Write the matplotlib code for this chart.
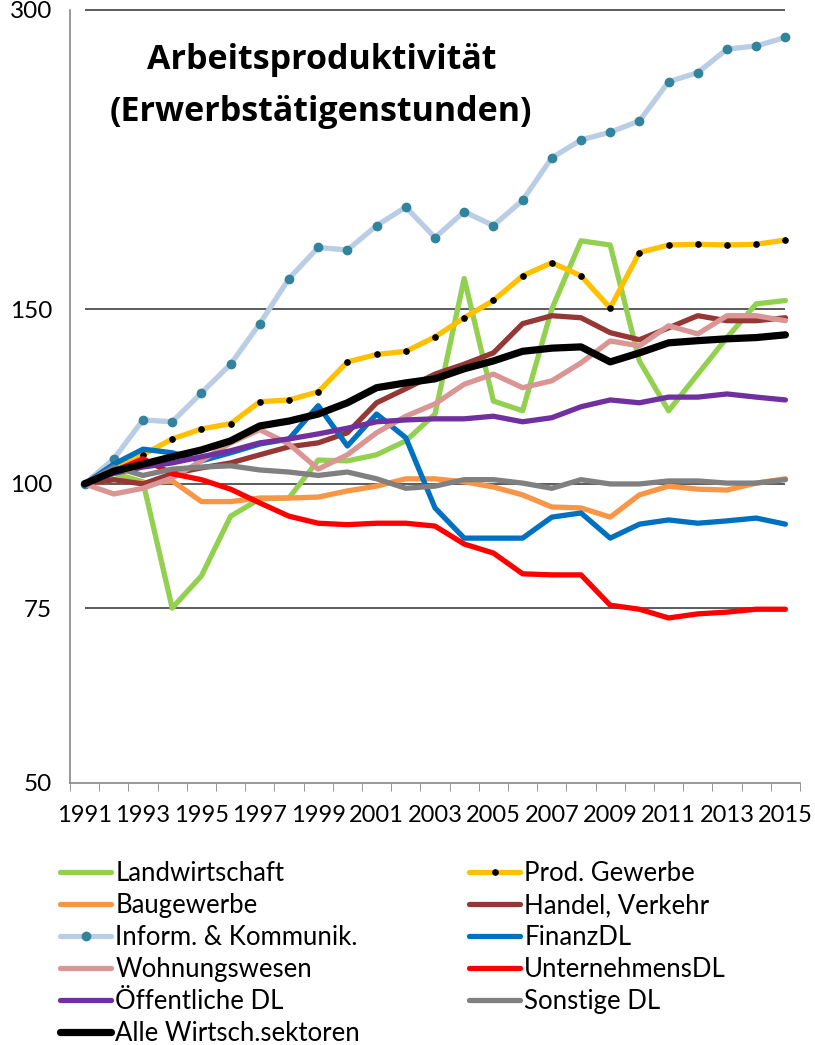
import matplotlib
matplotlib.use("Agg")
import matplotlib.pyplot as plt
from matplotlib.ticker import FixedLocator, NullFormatter
import numpy as np

plt.rcParams['font.family'] = ['Lato', 'DejaVu Sans']

years = list(range(1991, 2016))

landwirtschaft = [100, 102.5, 100.5, 75, 80.8, 92.8, 96.6, 96.8, 105.7, 105.5, 107, 110.5, 117.6,
                  161, 121.2, 118.5, 150, 175.7, 174, 133, 118.5, 129, 140.4, 151.8, 153]
prod_gewerbe = [100, 103.5, 107, 111, 113.6, 115, 121, 121.5, 123.8, 132.7, 135, 136, 140.6,
                147, 153, 162, 167, 162, 150.4, 171, 174, 174.3, 174, 174.3, 176]
baugewerbe = [100, 101, 100.2, 100.7, 96, 96, 96.8, 96.8, 97, 98.4, 99.5, 101.2, 101.2,
              100.5, 99.3, 97.5, 94.8, 94.6, 92.6, 97.5, 99.5, 98.8, 98.6, 100.2, 101.2]
handel = [100, 101, 100, 102.4, 103.8, 105, 107, 109, 110, 112.6, 120.7, 124.7, 129,
          132, 135.5, 145, 147.7, 147, 142, 139.7, 143.6, 147.7, 146, 146, 147]
inform = [100, 106, 116, 115.5, 123.5, 132, 145, 161, 173, 172, 182, 190, 177,
          188, 182, 193, 213, 222, 226, 232, 254, 259.5, 274, 276, 281.5]
finanz = [100, 104.7, 108.4, 107.5, 105.5, 107.5, 109.7, 111, 119.9, 109.2, 117.6, 111.3, 94.6,
          88.2, 88.2, 88.2, 92.6, 93.5, 88.2, 91.1, 92, 91.3, 91.8, 92.4, 91.1]
wohnung = [100, 97.7, 99, 101.4, 105.5, 110, 113.4, 109.7, 103.5, 107, 112.6, 117, 120.4,
           126, 129, 125, 127, 132.4, 139.3, 137.7, 144.3, 141.6, 147.7, 147.7, 146]
unternehmens = [100, 103, 106, 102.4, 101, 98.8, 95.7, 92.8, 91.3, 91, 91.3, 91.3, 90.7,
                87, 85.2, 81.2, 81, 81, 75.5, 74.8, 73.3, 74, 74.3, 74.8, 74.8]
oeffentlich = [100, 102.5, 104, 105, 106.5, 108, 110, 111, 112.3, 113.8, 115.5, 116, 116.3,
               116.3, 117, 115.5, 116.6, 119.6, 121.5, 120.7, 122.3, 122.3, 123.2, 122.3, 121.5]
sonstige = [100, 104, 102, 103.5, 104, 104.3, 103.3, 102.8, 102, 102.8, 101.2, 99, 99.5,
            101, 101, 100.2, 99, 101, 100, 100, 100.7, 100.7, 100.2, 100.2, 101]
alle = [100, 103, 104.7, 106.5, 108.2, 110.5, 114.4, 115.7, 117.6, 120.7, 125, 126.4, 127.6,
        130.6, 133, 136, 137, 137.4, 132.7, 135.5, 138.7, 139.4, 140, 140.4, 141.3]

labels = ['Landwirtschaft', 'Prod. Gewerbe', 'Baugewerbe', 'Handel, Verkehr',
          'Inform. & Kommunik.', 'FinanzDL', 'Wohnungswesen', 'UnternehmensDL',
          'Öffentliche DL', 'Sonstige DL', 'Alle Wirtsch.sektoren']
colors = ['#92D050', '#FFC000', '#F79646', '#953735', '#B9CDE5', '#0070C0',
          '#D99694', '#FF0000', '#7030A0', '#808080', '#000000']
series = [landwirtschaft, prod_gewerbe, baugewerbe, handel, inform, finanz,
          wohnung, unternehmens, oeffentlich, sonstige, alle]
gridlevels = [75, 100, 150, 300]
yticks = [50, 75, 100, 150, 300]


def main():
    fig = plt.figure(figsize=(8.15, 10.45), dpi=100)
    ax = fig.add_axes([70 / 815, 1 - 783 / 1045, 730 / 815, 773 / 1045])
    ax.set_yscale('log')

    ax.hlines(gridlevels, years[0], years[-1], color='#404040', lw=1.2, zorder=1, clip_on=False)

    handles = {}
    for name, col, vals in zip(labels, colors, series):
        kw = dict(color=col, lw=3.8, solid_capstyle='round', solid_joinstyle='round', zorder=2)
        if name == 'Alle Wirtsch.sektoren':
            kw['lw'] = 5.2
            kw['zorder'] = 3
        if name == 'Prod. Gewerbe':
            kw.update(marker='o', markersize=3.8, markerfacecolor='black', markeredgecolor='black')
        if name == 'Inform. & Kommunik.':
            kw.update(marker='o', markersize=6, markerfacecolor='#31849B', markeredgecolor='#31849B')
        line, = ax.plot(years, vals, **kw)
        handles[name] = line

    ax.set_xlim(1990.5, 2015.5)
    ax.set_ylim(50, 300)

    ax.set_xticks(range(1991, 2016, 2))
    ax.set_xticks(np.arange(1990.5, 2016, 1), minor=True)
    ax.tick_params(axis='x', which='major', length=0, pad=16, labelsize=17)
    ax.tick_params(axis='x', which='minor', length=6, color='#868686', direction='out')

    ax.yaxis.set_major_locator(FixedLocator(yticks))
    ax.set_yticklabels([str(v) for v in yticks])
    ax.yaxis.set_minor_locator(FixedLocator([50]))
    ax.yaxis.set_minor_formatter(NullFormatter())
    ax.tick_params(axis='y', which='major', length=0, pad=13, labelsize=17.5)
    ax.tick_params(axis='y', which='minor', length=7, color='#868686', direction='out')

    for side in ['top', 'right']:
        ax.spines[side].set_visible(False)
    for side in ['left', 'bottom']:
        ax.spines[side].set_color('#868686')
        ax.spines[side].set_linewidth(1.2)

    title_font = dict(ha='center', va='center', fontsize=24.5, fontweight='bold',
                      family=['Open Sans', 'DejaVu Sans'])
    fig.text(322 / 815, 1 - 60 / 1045, 'Arbeitsproduktivität', **title_font)
    fig.text(321 / 815, 1 - 112 / 1045, '(Erwerbstätigenstunden)', **title_font)

    left_names = labels[0::2]
    right_names = labels[1::2]
    common = dict(loc='upper left', frameon=False, fontsize=18.5, handlelength=2.0,
                  handletextpad=0.15, labelspacing=0.27, borderpad=0, borderaxespad=0)
    fig.legend([handles[n] for n in left_names], left_names,
               bbox_to_anchor=(60 / 815, 1 - 861 / 1045), **common)
    fig.legend([handles[n] for n in right_names], right_names,
               bbox_to_anchor=(469 / 815, 1 - 861 / 1045), **common)

    fig.savefig('out.png', dpi=100)


if __name__ == "__main__":
    main()
